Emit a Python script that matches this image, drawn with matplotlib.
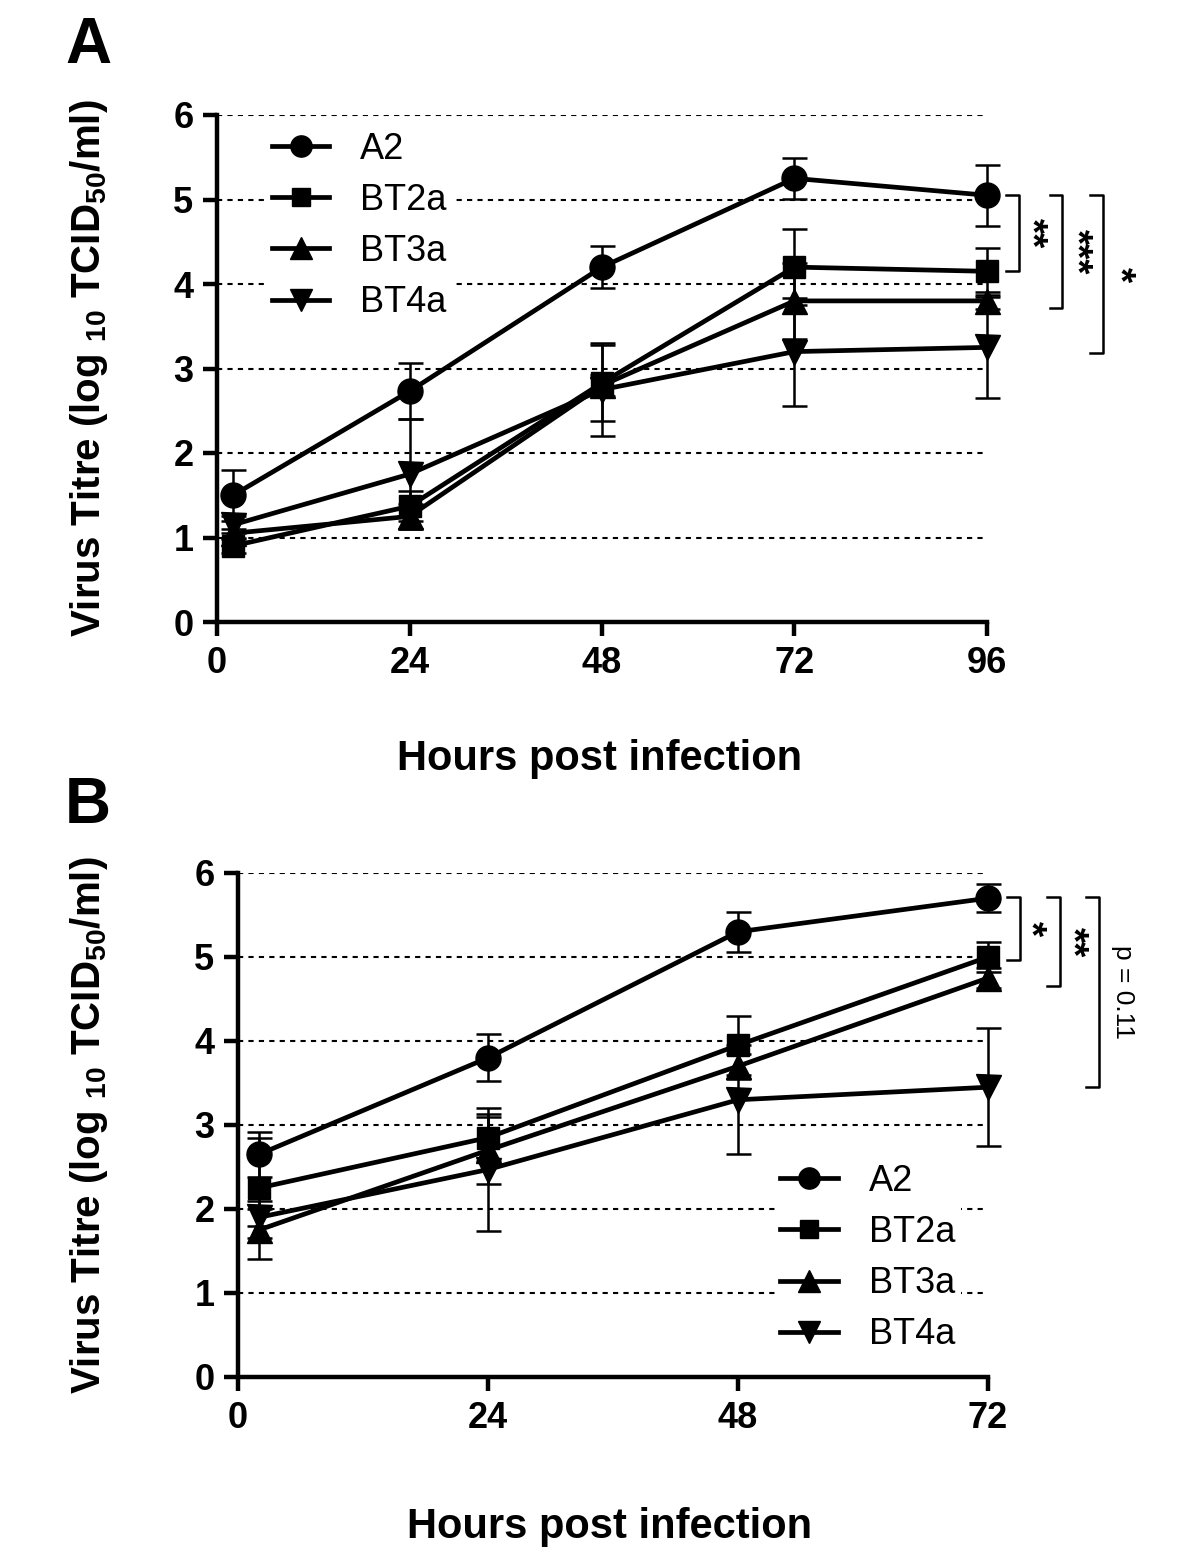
import matplotlib
matplotlib.use("Agg")
import matplotlib.pyplot as plt

plt.rcParams['font.family'] = ['Liberation Sans', 'DejaVu Sans']
plt.rcParams['mathtext.fontset'] = 'custom'
plt.rcParams['mathtext.rm'] = 'Liberation Sans'
plt.rcParams['mathtext.bf'] = 'Liberation Sans:bold'
plt.rcParams['mathtext.it'] = 'Liberation Sans:italic'

series_names = ["A2", "BT2a", "BT3a", "BT4a"]
markers = ["o", "s", "^", "v"]

# Panel A
hours_a = [2, 24, 48, 72, 96]
a2_a = [1.5, 2.73, 4.2, 5.25, 5.05]
a2_a_err = [0.3, 0.33, 0.25, 0.24, 0.36]
bt2a_a = [0.9, 1.37, 2.83, 4.2, 4.15]
bt2a_a_err = [0.08, 0.18, 0.45, 0.45, 0.28]
bt3a_a = [1.05, 1.25, 2.8, 3.8, 3.8]
bt3a_a_err = [0.05, 0.15, 0.12, 0.45, 0.1]
bt4a_a = [1.15, 1.75, 2.75, 3.2, 3.25]
bt4a_a_err = [0.1, 0.65, 0.55, 0.64, 0.6]
xticks_a = [0, 24, 48, 72, 96]
sig_a = ["**", "***", "*"]

# Panel B
hours_b = [2, 24, 48, 72]
a2_b = [2.65, 3.8, 5.3, 5.7]
a2_b_err = [0.27, 0.28, 0.24, 0.17]
bt2a_b = [2.25, 2.85, 3.95, 5.0]
bt2a_b_err = [0.6, 0.28, 0.35, 0.18]
bt3a_b = [1.75, 2.7, 3.7, 4.75]
bt3a_b_err = [0.35, 0.4, 0.15, 0.12]
bt4a_b = [1.9, 2.47, 3.3, 3.45]
bt4a_b_err = [0.1, 0.73, 0.65, 0.7]
xticks_b = [0, 24, 48, 72]
sig_b = ["*", "**", "p = 0.11"]

yticks = [0, 1, 2, 3, 4, 5, 6]
ylabel = r"Virus Titre (log $_{\mathbf{10}}$ TCID$_{\mathbf{50}}$/ml)"
xlabel = "Hours post infection"

W, H = 1200, 1553
fig = plt.figure(figsize=(W / 100, H / 100), dpi=100)


def px_axes(x0, x1, ytop, ybot):
    return fig.add_axes([x0 / W, 1 - ybot / H, (x1 - x0) / W, (ybot - ytop) / H])


def draw_panel(ax, hours, vals, errs, xticks, xmax):
    for yv in yticks[1:]:
        ax.axhline(yv, color="black", lw=1.5, ls=(0, (2.5, 2.5)), zorder=0)
    handles = []
    for name, m, v, e in zip(series_names, markers, vals, errs):
        ax.errorbar(hours, v, yerr=e, fmt="none", ecolor="black",
                    elinewidth=1.8, capsize=9, capthick=1.8, zorder=2,
                    clip_on=False)
        ms = {"o": 18, "s": 16, "^": 18, "v": 18}[m]
        h, = ax.plot(hours, v, color="black", lw=3.4, marker=m,
                     markersize=ms, zorder=3, label=name, clip_on=False)
        handles.append(h)
    ax.set_xlim(0, xmax)
    ax.set_ylim(0, 6)
    ax.set_xticks(xticks)
    ax.set_yticks(yticks)
    for s in ["top", "right"]:
        ax.spines[s].set_visible(False)
    for s in ["left", "bottom"]:
        ax.spines[s].set_linewidth(3.2)
    ax.tick_params(axis="both", direction="out", length=10, width=3.2,
                   labelsize=26, pad=7)
    for lab in ax.get_xticklabels() + ax.get_yticklabels():
        lab.set_fontweight("bold")
    ax.set_ylabel(ylabel, fontsize=29, fontweight="bold")
    ax.set_xlabel(xlabel, fontsize=30, fontweight="bold")
    return handles


def bracket(ax, x, ytop, ybot, text, tx, fs, weight="normal"):
    arm = 1.6 if ax.get_xlim()[1] > 80 else 1.25
    ax.plot([x - arm, x, x, x - arm], [ytop, ytop, ybot, ybot],
            color="black", lw=1.8, clip_on=False)
    ax.text(tx, (ytop + ybot) / 2, text, rotation=-90, ha="center",
            va="center", fontsize=fs, fontweight=weight, clip_on=False)


leg_kw = dict(fontsize=26, frameon=True, framealpha=1, edgecolor="none",
              handlelength=1.6, handletextpad=0.85, labelspacing=0.45,
              borderpad=0.15, borderaxespad=0, markerscale=0.85)

# ---- Panel A ----
axA = px_axes(217, 987, 115, 622)
hA = draw_panel(axA, hours_a, [a2_a, bt2a_a, bt3a_a, bt4a_a],
                [a2_a_err, bt2a_a_err, bt3a_a_err, bt4a_a_err], xticks_a, 96)
axA.yaxis.set_label_coords(-0.139, 0.5)
axA.xaxis.set_label_coords(0.497, -0.231)
axA.legend(handles=hA, loc="upper left", bbox_to_anchor=(0.064, 0.978), **leg_kw)
bracket(axA, 100.0, a2_a[-1], bt2a_a[-1], sig_a[0], 101.4, 28, "bold")
bracket(axA, 105.4, a2_a[-1], bt3a_a[-1] - 0.08, sig_a[1], 107.0, 28, "bold")
bracket(axA, 110.4, a2_a[-1], bt4a_a[-1] - 0.07, sig_a[2], 112.4, 28, "bold")
fig.text(65 / W, 1 - 46 / H, "A", fontsize=46, fontweight="bold",
         ha="left", va="center")

# ---- Panel B ----
axB = px_axes(238, 988, 873, 1377)
hB = draw_panel(axB, hours_b, [a2_b, bt2a_b, bt3a_b, bt4a_b],
                [a2_b_err, bt2a_b_err, bt3a_b_err, bt4a_b_err], xticks_b, 72)
axB.yaxis.set_label_coords(-0.171, 0.5)
axB.xaxis.set_label_coords(0.496, -0.258)
axB.legend(handles=hB, loc="lower left", bbox_to_anchor=(0.716, 0.038), **leg_kw)
bracket(axB, 75.1, a2_b[-1] + 0.01, bt2a_b[-1] - 0.03, sig_b[0], 76.0, 28, "bold")
bracket(axB, 78.9, a2_b[-1] + 0.01, bt3a_b[-1] - 0.1, sig_b[1], 80.0, 28, "bold")
bracket(axB, 82.7, a2_b[-1] + 0.01, bt4a_b[-1], sig_b[2], 85.0, 19)
fig.text(65 / W, 1 - 806 / H, "B", fontsize=46, fontweight="bold",
         ha="left", va="center")

fig.savefig("out.png", dpi=100)
